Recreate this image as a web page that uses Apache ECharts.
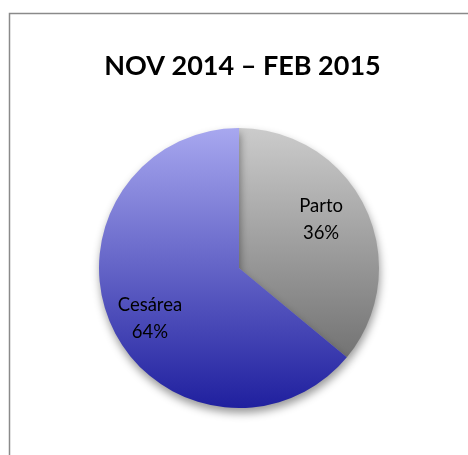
<!DOCTYPE html>
<html>
<head>
<meta charset="utf-8">
<script src="https://cdn.jsdelivr.net/npm/echarts@6/dist/echarts.min.js"></script>
<style>
html,body{margin:0;padding:0;background:#fff;}
#chart{width:468px;height:455px;}
</style>
</head>
<body>
<div id="chart"></div>
<script>
const titleText = 'NOV 2014 – FEB 2015';
const categories = ['Parto', 'Cesárea'];
const values = [36, 64];

const gradTop = 129, gradBottom = 409;
const sliceColors = [
  {type:'linear', x:0, y:gradTop, x2:0, y2:gradBottom, global:true,
   colorStops:[{offset:0,color:'#cbcbcb'},{offset:1,color:'#5f5f5f'}]},
  {type:'linear', x:0, y:gradTop, x2:0, y2:gradBottom, global:true,
   colorStops:[{offset:0,color:'#a7a7ef'},{offset:1,color:'#1f1f9e'}]}
];
const labelShift = [[16,-17],[-23,19]];

const chart = echarts.init(document.getElementById('chart'), null, {renderer:'canvas'});
chart.setOption({
  animation:false,
  backgroundColor:'#ffffff',
  graphic:[{
    type:'rect', left:7, top:11,
    shape:{width:520, height:520},
    style:{fill:'none', stroke:'#8a8a8a', lineWidth:1.5},
    silent:true
  }],
  title:{
    text:titleText,
    left:237.5, top:46, textAlign:'center',
    textStyle:{fontFamily:'Lato', fontWeight:'bold', fontSize:27, color:'#000', lineHeight:31}
  },
  series:[{
    type:'pie',
    center:[239,268],
    radius:140,
    startAngle:90,
    clockwise:true,
    data:categories.map((c,i)=>({name:c, value:values[i], itemStyle:{color:sliceColors[i]}})),
    itemStyle:{
      borderWidth:0,
      shadowBlur:9, shadowOffsetY:5, shadowOffsetX:1, shadowColor:'rgba(0,0,0,0.4)'
    },
    label:{
      show:true, position:'inside',
      formatter:p=>p.name+'\n'+p.percent.toFixed(0)+'%',
      fontFamily:'Lato', fontSize:18.5, color:'#000', lineHeight:27
    },
    labelLayout:function(p){
      const s = labelShift[p.dataIndex];
      return {dx:s[0], dy:s[1]};
    },
    labelLine:{show:false},
    emphasis:{disabled:true}
  }]
});
</script>
</body>
</html>
